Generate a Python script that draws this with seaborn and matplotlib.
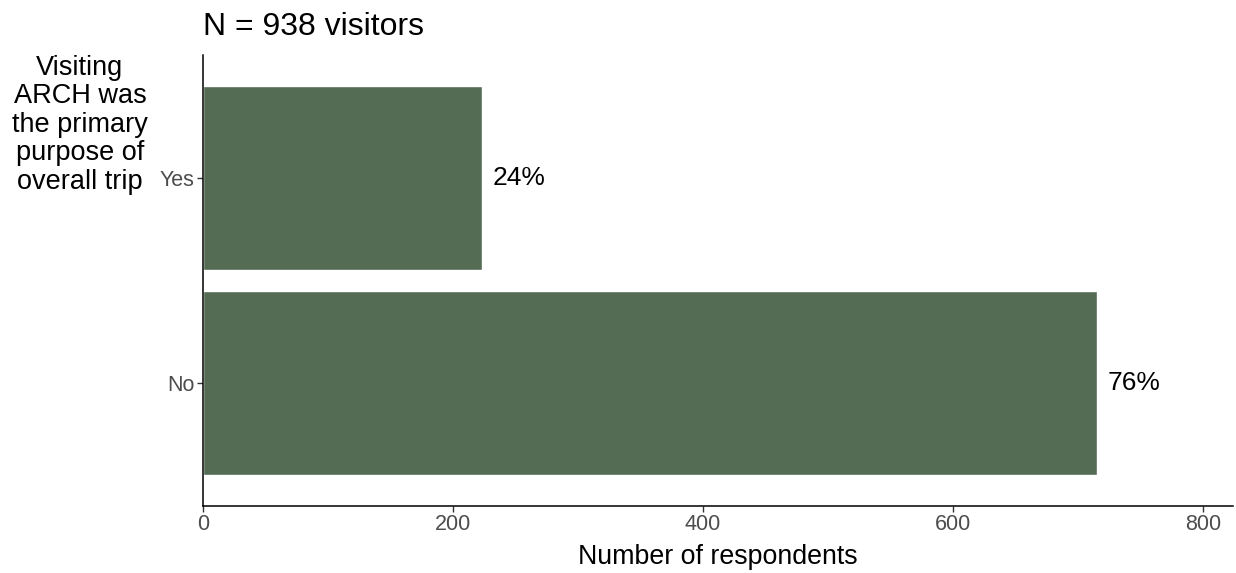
import numpy as np
import pandas as pd
import matplotlib
matplotlib.use("Agg")
import matplotlib.pyplot as plt
import seaborn as sns

# ── data ────────────────────────────────────────────────────
answers = ["Yes", "No"]
counts = [223, 715]
n_total = 938
x_ticks = [0, 200, 400, 600, 800]

df = pd.DataFrame({"answer": answers, "count": counts})
df["pct"] = [f"{round(c / n_total * 100)}%" for c in counts]

# ── style ───────────────────────────────────────────────────
sns.set_theme(style="white")
plt.rcParams["font.family"] = ["Liberation Sans", "DejaVu Sans"]

bar_color = "#546b54"
tick_gray = "#4d4d4d"

fig = plt.figure(figsize=(12.36, 5.73), dpi=100)
ax = fig.add_axes([203 / 1236, 1 - 506 / 573, (1233 - 203) / 1236, (506 - 55) / 573])

sns.barplot(data=df, x="count", y="answer", order=answers, orient="h",
            color=bar_color, width=0.9, saturation=1, ax=ax)

ax.set_xlim(0, 824)
ax.set_ylim(1.6, -0.6)
ax.set_xticks(x_ticks)
ax.set_xticklabels([str(t) for t in x_ticks])

# percentage labels
for i, row in df.iterrows():
    ax.annotate(row["pct"], xy=(row["count"], i), xytext=(8, 0),
                textcoords="offset points", ha="left", va="center",
                fontsize=19, color="black")

# axes look
for side in ["top", "right"]:
    ax.spines[side].set_visible(False)
for side in ["left", "bottom"]:
    ax.spines[side].set_color("black")
    ax.spines[side].set_linewidth(1.1)
ax.tick_params(axis="both", which="both", direction="out", length=4, width=1.0,
               color="#333333", labelcolor=tick_gray, labelsize=15.5, pad=2,
               left=True, bottom=True)
ax.grid(False)

ax.set_xlabel("Number of respondents", fontsize=19.3, color="black", labelpad=6)
ax.set_ylabel("")

# horizontal y title, top aligned with the axes
fig.text(80 / 1236, 1 - 55 / 573,
         "Visiting\nARCH was\nthe primary\npurpose of\noverall trip",
         ha="center", va="top", multialignment="center",
         fontsize=19.5, color="black", linespacing=1.12)

# title
fig.text(203 / 1236, 1 - 35 / 573, f"N = {n_total} visitors",
         ha="left", va="baseline", fontsize=23, color="black")

fig.savefig("out.png", dpi=100)
